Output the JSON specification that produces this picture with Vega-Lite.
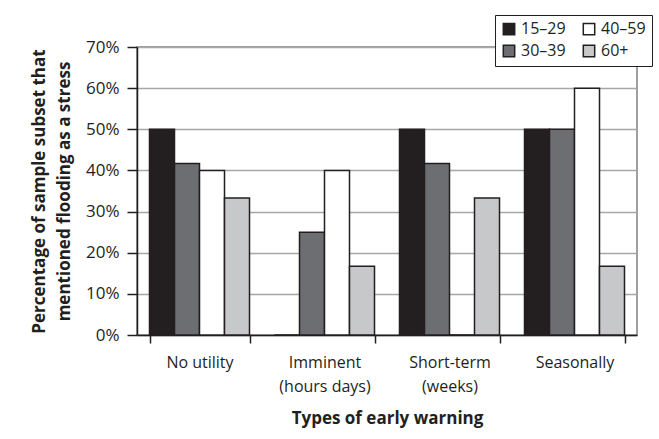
{
  "$schema": "https://vega.github.io/schema/vega-lite/v6.json",
  "width": 500,
  "height": 288,
  "autosize": "none",
  "padding": {"left": 137, "top": 47, "right": 22, "bottom": 104},
  "background": "white",
  "data": {
    "values": [
      {"warning": "No utility", "age": "15–29", "pct": 50},
      {"warning": "No utility", "age": "30–39", "pct": 41.7},
      {"warning": "No utility", "age": "40–59", "pct": 40},
      {"warning": "No utility", "age": "60+", "pct": 33.3},
      {"warning": "Imminent (hours days)", "age": "15–29", "pct": 0},
      {"warning": "Imminent (hours days)", "age": "30–39", "pct": 25},
      {"warning": "Imminent (hours days)", "age": "40–59", "pct": 40},
      {"warning": "Imminent (hours days)", "age": "60+", "pct": 16.7},
      {"warning": "Short-term (weeks)", "age": "15–29", "pct": 50},
      {"warning": "Short-term (weeks)", "age": "30–39", "pct": 41.7},
      {"warning": "Short-term (weeks)", "age": "40–59", "pct": 0},
      {"warning": "Short-term (weeks)", "age": "60+", "pct": 33.3},
      {"warning": "Seasonally", "age": "15–29", "pct": 50},
      {"warning": "Seasonally", "age": "30–39", "pct": 50},
      {"warning": "Seasonally", "age": "40–59", "pct": 60},
      {"warning": "Seasonally", "age": "60+", "pct": 16.7}
    ]
  },
  "mark": {"type": "bar", "stroke": "#231f20", "strokeWidth": 1.5},
  "encoding": {
    "x": {
      "field": "warning",
      "type": "nominal",
      "sort": ["No utility", "Imminent (hours days)", "Short-term (weeks)", "Seasonally"],
      "scale": {"paddingInner": 0.2, "paddingOuter": 0.1},
      "axis": {
        "title": "Types of early warning",
        "labelAngle": 0,
        "tickBand": "extent",
        "labelExpr": "datum.value == 'Imminent (hours days)' ? ['Imminent', '(hours days)'] : datum.value == 'Short-term (weeks)' ? ['Short-term', '(weeks)'] : datum.value",
        "labelLineHeight": 24,
        "labelPadding": 11,
        "titlePadding": 16,
        "titleFontSize": 17
      }
    },
    "xOffset": {
      "field": "age",
      "type": "nominal",
      "sort": ["15–29", "30–39", "40–59", "60+"],
      "scale": {"paddingInner": 0, "paddingOuter": 0}
    },
    "y": {
      "field": "pct",
      "type": "quantitative",
      "scale": {"domain": [0, 70]},
      "axis": {
        "title": ["Percentage of sample subset that", "mentioned flooding as a stress"],
        "values": [0, 10, 20, 30, 40, 50, 60, 70],
        "labelExpr": "datum.value + '%'",
        "labelFontSize": 17,
        "titleFontSize": 17,
        "titlePadding": 12,
        "titleLineHeight": 25,
        "tickSize": 10,
        "labelPadding": 8
      }
    },
    "color": {
      "field": "age",
      "type": "nominal",
      "scale": {
        "domain": ["15–29", "40–59", "30–39", "60+"],
        "range": ["#231f20", "#ffffff", "#6d6e71", "#c7c8ca"]
      },
      "legend": {
        "title": null,
        "orient": "none",
        "legendX": 358,
        "legendY": -32,
        "columns": 2,
        "direction": "horizontal",
        "columnPadding": 14,
        "rowPadding": 4,
        "padding": 6,
        "strokeColor": "#231f20",
        "fillColor": "white",
        "symbolType": "square",
        "symbolSize": 130,
        "symbolStrokeColor": "#231f20",
        "symbolStrokeWidth": 1.5,
        "labelFontSize": 16,
        "labelFont": "Open Sans",
        "labelColor": "#231f20"
      }
    }
  },
  "config": {
    "view": {"stroke": "#808080", "strokeWidth": 1.5},
    "font": "Open Sans",
    "axis": {
      "labelFont": "Open Sans",
      "labelFontSize": 16,
      "labelColor": "#231f20",
      "titleFont": "Open Sans",
      "titleFontSize": 16,
      "titleFontWeight": "bold",
      "titleColor": "#231f20",
      "domainColor": "#231f20",
      "domainWidth": 1.5,
      "tickColor": "#231f20",
      "tickWidth": 1.5,
      "tickSize": 8,
      "gridColor": "#a6a6a6",
      "gridWidth": 1.5
    },
    "axisX": {"grid": false}
  }
}
